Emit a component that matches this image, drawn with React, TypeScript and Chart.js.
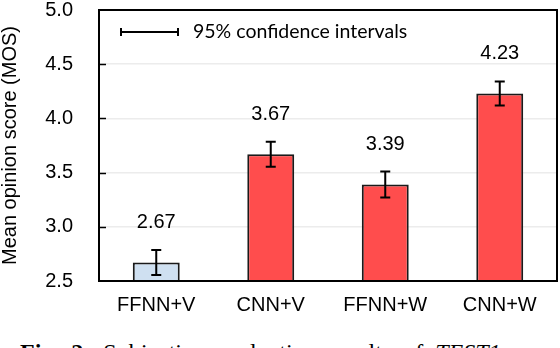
import React, { useEffect, useRef } from "react";
import { Chart, registerables } from "chart.js";

Chart.register(...registerables);

const categories = ["FFNN+V", "CNN+V", "FFNN+W", "CNN+W"];
const mosValues = [2.67, 3.67, 3.39, 4.23];
const ciHalfWidths = [0.115, 0.115, 0.12, 0.11];
const yTickMin = 2.5;
const yTickMax = 5.0;
const yTickStep = 0.5;
const yAxisTitle = "Mean opinion score (MOS)";
const legendLabel = "95% confidence intervals";
const captionBold = "Fig. 2:";
const captionText = " Subjective evaluation results of ";
const captionItalic = "TEST1";

const barFill = ["#CFE0F1", "#FF4D4D", "#FF4D4D", "#FF4D4D"];
const SANS = '"Liberation Sans", Arial, sans-serif';

const overlayPlugin = {
  id: "overlay",
  afterDatasetsDraw(chart: any) {
    const { ctx, chartArea: a, scales } = chart;
    const x = scales.x;
    const y = scales.y;
    ctx.save();
    ctx.strokeStyle = "#000";
    ctx.lineWidth = 1.5;
    y.ticks.forEach((t: any) => {
      if (t.value > yTickMin && t.value < yTickMax) {
        const py = Math.round(y.getPixelForValue(t.value)) + 0.5;
        ctx.beginPath();
        ctx.moveTo(a.left, py);
        ctx.lineTo(a.left + 7, py);
        ctx.stroke();
      }
    });
    mosValues.forEach((v, i) => {
      const cx = x.getPixelForValue(i);
      const top = y.getPixelForValue(v + ciHalfWidths[i]);
      const bot = y.getPixelForValue(v - ciHalfWidths[i]);
      ctx.strokeStyle = "#000";
      ctx.lineWidth = 2;
      ctx.beginPath();
      ctx.moveTo(cx, top);
      ctx.lineTo(cx, bot);
      ctx.moveTo(cx - 5, top);
      ctx.lineTo(cx + 5, top);
      ctx.moveTo(cx - 5, bot);
      ctx.lineTo(cx + 5, bot);
      ctx.stroke();
      ctx.fillStyle = "#000";
      ctx.font = "20px " + SANS;
      ctx.textAlign = "center";
      ctx.textBaseline = "middle";
      ctx.fillText(v.toFixed(2), cx, y.getPixelForValue(v) - 40);
    });
    ctx.lineWidth = 2;
    ctx.strokeStyle = "#000";
    ctx.strokeRect(a.left, a.top, a.right - a.left, a.bottom - a.top);
    const ly = a.top + 22;
    const lx0 = a.left + 22;
    const lx1 = a.left + 79;
    ctx.lineWidth = 2;
    ctx.beginPath();
    ctx.moveTo(lx0, ly);
    ctx.lineTo(lx1, ly);
    ctx.moveTo(lx0, ly - 4);
    ctx.lineTo(lx0, ly + 4);
    ctx.moveTo(lx1, ly - 4);
    ctx.lineTo(lx1, ly + 4);
    ctx.stroke();
    ctx.font = '19.5px Lato, "Open Sans", sans-serif';
    ctx.textAlign = "left";
    ctx.textBaseline = "middle";
    ctx.fillText(legendLabel, a.left + 94, ly);
    ctx.restore();
  },
};

export default function App() {
  const canvasRef = useRef<HTMLCanvasElement | null>(null);

  useEffect(() => {
    const canvas = canvasRef.current;
    if (!canvas) return;
    const chart = new Chart(canvas, {
      type: "bar",
      data: {
        labels: categories,
        datasets: [
          {
            data: mosValues,
            backgroundColor: barFill,
            borderColor: "#1a1a1a",
            borderWidth: 2,
            borderSkipped: false,
            categoryPercentage: 1,
            barPercentage: 0.41,
          },
        ],
      },
      options: {
        animation: false,
        responsive: false,
        maintainAspectRatio: false,
        layout: { padding: { top: 10, right: 3, left: 0, bottom: 0 }, autoPadding: false },
        plugins: {
          legend: { display: false },
          tooltip: { enabled: false },
        },
        scales: {
          x: {
            afterFit: (s: any) => {
              s.height = 49;
              s.paddingLeft = 0;
              s.paddingRight = 0;
            },
            grid: { display: false, drawTicks: false },
            border: { display: false },
            ticks: {
              color: "#000",
              font: { family: SANS, size: 20 },
              padding: 12,
            },
          },
          y: {
            min: yTickMin,
            max: yTickMax,
            afterFit: (s: any) => {
              s.width = 99;
              s.paddingTop = 0;
              s.paddingBottom = 0;
            },
            grid: {
              drawTicks: false,
              lineWidth: 1.5,
              color: (c: any) =>
                c.tick && (c.tick.value === yTickMin || c.tick.value === yTickMax)
                  ? "rgba(0,0,0,0)"
                  : "#ececec",
            },
            border: { display: false },
            ticks: {
              stepSize: yTickStep,
              color: "#000",
              font: { family: SANS, size: 20 },
              padding: 26,
              callback: (v: any) => Number(v).toFixed(1),
            },
            title: {
              display: true,
              text: yAxisTitle,
              color: "#000",
              font: { family: SANS, size: 20 },
              padding: { top: -2, bottom: 0 },
            },
          },
        },
      },
      plugins: [overlayPlugin],
    });
    return () => chart.destroy();
  }, []);

  return (
    <div
      style={{
        position: "fixed",
        left: 0,
        top: 0,
        width: 560,
        height: 348,
        overflow: "hidden",
        background: "#fff",
      }}
    >
      <canvas
        ref={canvasRef}
        width={560}
        height={330}
        style={{ position: "absolute", left: 0, top: 0, width: 560, height: 330 }}
      />
      <div
        style={{
          position: "absolute",
          left: 20,
          top: 340,
          whiteSpace: "nowrap",
          wordSpacing: "6px",
          fontFamily: '"Liberation Serif", "Times New Roman", serif',
          fontSize: 24,
          lineHeight: "24px",
          color: "#000",
        }}
      >
        <b>{captionBold}</b>
        {captionText}
        <i>{captionItalic}</i>
      </div>
    </div>
  );
}
